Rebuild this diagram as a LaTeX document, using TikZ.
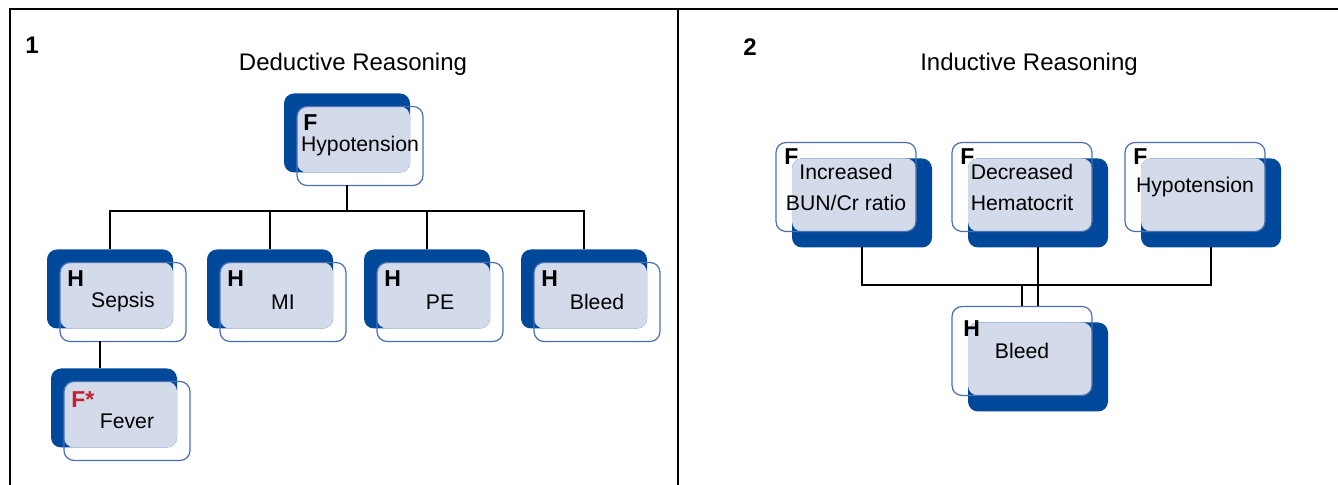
\documentclass[tikz,border=0pt]{standalone}
\usepackage{fontspec}
\setmainfont{Liberation Sans}

\definecolor{boxblue}{RGB}{0,72,153}
\definecolor{boxfill}{RGB}{211,218,234}
\definecolor{boxedge}{RGB}{74,112,178}
\definecolor{tagred}{RGB}{200,30,45}

\begin{document}
\begin{tikzpicture}[x=0.5pt,y=-0.5pt,
	dark node/.style={rectangle,rounded corners=5pt,fill=boxblue,inner sep=0pt,outer sep=0pt},
	light node/.style={rectangle,rounded corners=5pt,draw=boxedge,line width=0.6pt,inner sep=0pt,outer sep=0pt,align=center,font=\fontsize{10.6}{15.5}\selectfont},
	small box/.style={minimum width=63pt,minimum height=39.5pt},
	wide box/.style={minimum width=70pt,minimum height=44.5pt},
	overlap/.style={fill=boxfill,rounded corners=5pt},
	tag node/.style={anchor=west,inner sep=0pt,font=\fontsize{11.5}{13}\selectfont\bfseries},
	title node/.style={anchor=base,inner sep=0pt,font=\fontsize{12}{14}\selectfont},
	num node/.style={inner sep=0pt,font=\fontsize{12}{14}\selectfont\bfseries},
	link/.style={line width=0.65pt}
]
	\useasboundingbox (0,0) rectangle (1338,485);

	% frame
	\draw[line width=1pt] (10,485) -- (10,9) -- (1338,9);
	\draw[line width=0.8pt] (678,9) -- (678,485);

	% 1: deductive
	\node[num node] (num1) at (32,45) {1};
	\node[title node] (deduct) at (353,70.5) {Deductive Reasoning};

	\node[dark node,small box] (hypo1-bg) at (347,133) {};
	\fill[overlap] ([shift={(13,13)}]hypo1-bg.north west) rectangle (hypo1-bg.south east);
	\node[light node,small box] (hypo1) at ([shift={(13,13)}]hypo1-bg.center) {Hypotension};
	\node[tag node] (hypo1-tag) at ([shift={(6,16.5)}]hypo1.north west) {F};

	\node[dark node,small box] (sepsis-bg) at (110,289) {};
	\fill[overlap] ([shift={(13,13)}]sepsis-bg.north west) rectangle (sepsis-bg.south east);
	\node[light node,small box] (sepsis) at ([shift={(13,13)}]sepsis-bg.center) {Sepsis};
	\node[tag node] (sepsis-tag) at ([shift={(7,16.5)}]sepsis.north west) {H};

	\node[dark node,small box] (mi-bg) at (270,289) {};
	\fill[overlap] ([shift={(13,13)}]mi-bg.north west) rectangle (mi-bg.south east);
	\node[light node,small box] (mi) at ([shift={(13,13)}]mi-bg.center) {MI};
	\node[tag node] (mi-tag) at ([shift={(7,16.5)}]mi.north west) {H};

	\node[dark node,small box] (pe-bg) at (427,289) {};
	\fill[overlap] ([shift={(13,13)}]pe-bg.north west) rectangle (pe-bg.south east);
	\node[light node,small box] (pe) at ([shift={(13,13)}]pe-bg.center) {PE};
	\node[tag node] (pe-tag) at ([shift={(7,16.5)}]pe.north west) {H};

	\node[dark node,small box] (bleed1-bg) at (584,289) {};
	\fill[overlap] ([shift={(13,13)}]bleed1-bg.north west) rectangle (bleed1-bg.south east);
	\node[light node,small box] (bleed1) at ([shift={(13,13)}]bleed1-bg.center) {Bleed};
	\node[tag node] (bleed1-tag) at ([shift={(7,16.5)}]bleed1.north west) {H};

	\node[dark node,small box] (fever-bg) at (114,408) {};
	\fill[overlap] ([shift={(13,13)}]fever-bg.north west) rectangle (fever-bg.south east);
	\node[light node,small box] (fever) at ([shift={(13,13)}]fever-bg.center) {Fever};
	\node[tag node,text=tagred] (fever-tag) at ([shift={(7,18.5)}]fever.north west) {F*};

	\coordinate (bus1) at (347,211);
	\coordinate (sf) at ([xshift=-11.5pt]sepsis.south);
	\draw[link] (hypo1.south -| hypo1-bg.center) -- (bus1);
	\draw[link] (sepsis-bg.north) |- (bus1) -| (bleed1-bg.north);
	\draw[link] (mi-bg.north) -- (mi-bg.north |- bus1);
	\draw[link] (pe-bg.north) -- (pe-bg.north |- bus1);
	\draw[link] (sf) -- (sf |- fever-bg.north);

	% 2: inductive
	\node[num node] (num2) at (750,47) {2};
	\node[title node] (induct) at (1029,70.5) {Inductive Reasoning};

	\node[dark node,wide box] (inc-bg) at (862,203) {};
	\fill[overlap] (inc-bg.north west) rectangle ([shift={(-16,-16)}]inc-bg.south east);
	\node[light node,wide box] (inc) at ([shift={(-16,-16)}]inc-bg.center) {Increased\\BUN/Cr ratio};
	\node[tag node] (inc-tag) at ([shift={(8,14.5)}]inc.north west) {F};

	\node[dark node,wide box] (dec-bg) at (1038,203) {};
	\fill[overlap] (dec-bg.north west) rectangle ([shift={(-16,-16)}]dec-bg.south east);
	\node[light node,wide box] (dec) at ([shift={(-16,-16)}]dec-bg.center) {Decreased\\Hematocrit};
	\node[tag node] (dec-tag) at ([shift={(8,14.5)}]dec.north west) {F};

	\node[dark node,wide box] (hypo2-bg) at (1211,203) {};
	\fill[overlap] (hypo2-bg.north west) rectangle ([shift={(-16,-16)}]hypo2-bg.south east);
	\node[light node,wide box] (hypo2) at ([shift={(-16,-16)}]hypo2-bg.center) {Hypotension};
	\node[tag node] (hypo2-tag) at ([shift={(8,14.5)}]hypo2.north west) {F};

	\node[dark node,wide box] (bleed2-bg) at (1038,367) {};
	\fill[overlap] (bleed2-bg.north west) rectangle ([shift={(-16,-16)}]bleed2-bg.south east);
	\node[light node,wide box] (bleed2) at ([shift={(-16,-16)}]bleed2-bg.center) {Bleed};
	\node[tag node] (bleed2-tag) at ([shift={(11,22.5)}]bleed2.north west) {H};

	\coordinate (bus2) at (1038,285);
	\draw[link] (inc-bg.south) |- (bus2) -| (hypo2-bg.south);
	\draw[link] (dec-bg.south) -- (dec-bg.south |- bleed2.north);
	\draw[link] (bleed2.north |- bus2) -- (bleed2.north);

\end{tikzpicture}
\end{document}
